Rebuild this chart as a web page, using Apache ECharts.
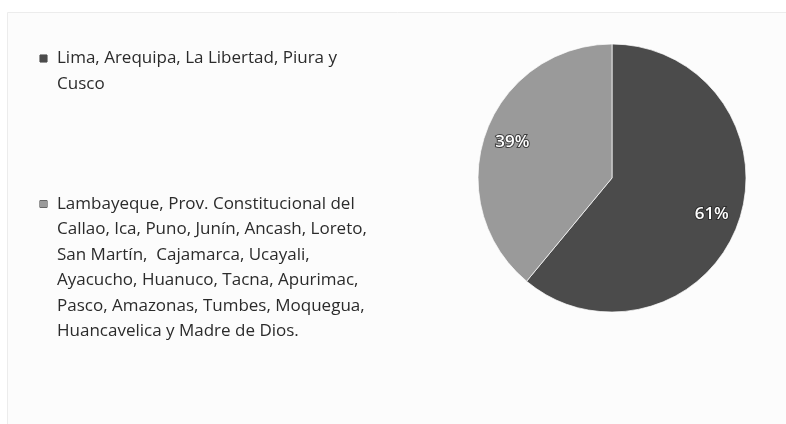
<!DOCTYPE html>
<html>
<head>
<meta charset="utf-8">
<script src="https://cdn.jsdelivr.net/npm/echarts@6/dist/echarts.min.js"></script>
<style>
  html, body { margin: 0; padding: 0; background: #ffffff; }
  #chart { width: 786px; height: 424px; }
</style>
</head>
<body>
<div id="chart"></div>
<script>
// Region groups and their share of the total (percent)
const categories = [
  'Lima, Arequipa, La Libertad, Piura y Cusco',
  'Lambayeque, Prov. Constitucional del Callao, Ica, Puno, Junín, Ancash, Loreto, San Martín,  Cajamarca, Ucayali, Ayacucho, Huanuco, Tacna, Apurimac, Pasco, Amazonas, Tumbes, Moquegua, Huancavelica y Madre de Dios.'
];
const shares = [61, 39];
const sliceColors = ['#4b4b4b', '#9a9a9a'];

// Legend text broken into lines
const legendLines = [
  ['Lima, Arequipa, La Libertad, Piura y', 'Cusco'],
  ['Lambayeque, Prov. Constitucional del',
   'Callao, Ica, Puno, Junín, Ancash, Loreto,',
   'San Martín,  Cajamarca, Ucayali,',
   'Ayacucho, Huanuco, Tacna, Apurimac,',
   'Pasco, Amazonas, Tumbes, Moquegua,',
   'Huancavelica y Madre de Dios.']
];

const FONT = '"Open Sans", "Noto Sans", sans-serif';
const pieData = categories.map((name, i) => ({ name, value: shares[i] }));

const chart = echarts.init(document.getElementById('chart'), null, { renderer: 'canvas' });

const rich = {
  t: { fontFamily: FONT, fontSize: 17, lineHeight: 25.5, color: '#2b2b2b' },
  ind: { width: 17, lineHeight: 25.5 },
  gap: { width: 10 }
};
sliceColors.forEach((c, i) => {
  rich['sq' + i] = { width: 7, height: 7, backgroundColor: c, borderColor: '#333', borderWidth: 0.5 };
});

chart.setOption({
  backgroundColor: '#ffffff',
  animation: false,
  color: sliceColors,
  graphic: [{
    type: 'rect',
    left: 7, top: 12,
    shape: { width: 790, height: 420 },
    style: { fill: '#fcfcfc', stroke: '#ececec', lineWidth: 1 },
    z: -10
  }],
  legend: {
    orient: 'vertical',
    left: 30,
    top: 45,
    icon: 'none',
    itemWidth: 0,
    itemHeight: 0,
    itemGap: 103,
    selectedMode: false,
    data: categories,
    formatter: function (name) {
      const i = categories.indexOf(name);
      return legendLines[i].map((line, k) =>
        (k === 0 ? '{sq' + i + '| }{gap| }' : '{ind| }') + '{t|' + line + '}'
      ).join('\n');
    },
    textStyle: { rich: rich }
  },
  series: [
    {
      type: 'pie',
      center: [612, 178],
      radius: [0, 134],
      startAngle: 90,
      clockwise: true,
      data: pieData,
      label: { show: false },
      labelLine: { show: false },
      emphasis: { scale: false },
      itemStyle: { borderColor: 'rgba(255,255,255,0.7)', borderWidth: 1 }
    },
    {
      // label ring: places the percentage text part-way out in each slice
      type: 'pie',
      center: [612, 178],
      radius: [72, 134],
      startAngle: 90,
      clockwise: true,
      silent: true,
      data: pieData,
      itemStyle: { color: 'rgba(0,0,0,0)' },
      label: {
        show: true,
        position: 'inside',
        formatter: '{c}%',
        fontFamily: FONT,
        fontSize: 17,
        fontWeight: 600,
        color: '#ffffff',
        textBorderColor: 'rgba(40,40,40,0.8)',
        textBorderWidth: 2
      },
      labelLine: { show: false },
      emphasis: { disabled: true }
    }
  ]
});
</script>
</body>
</html>
